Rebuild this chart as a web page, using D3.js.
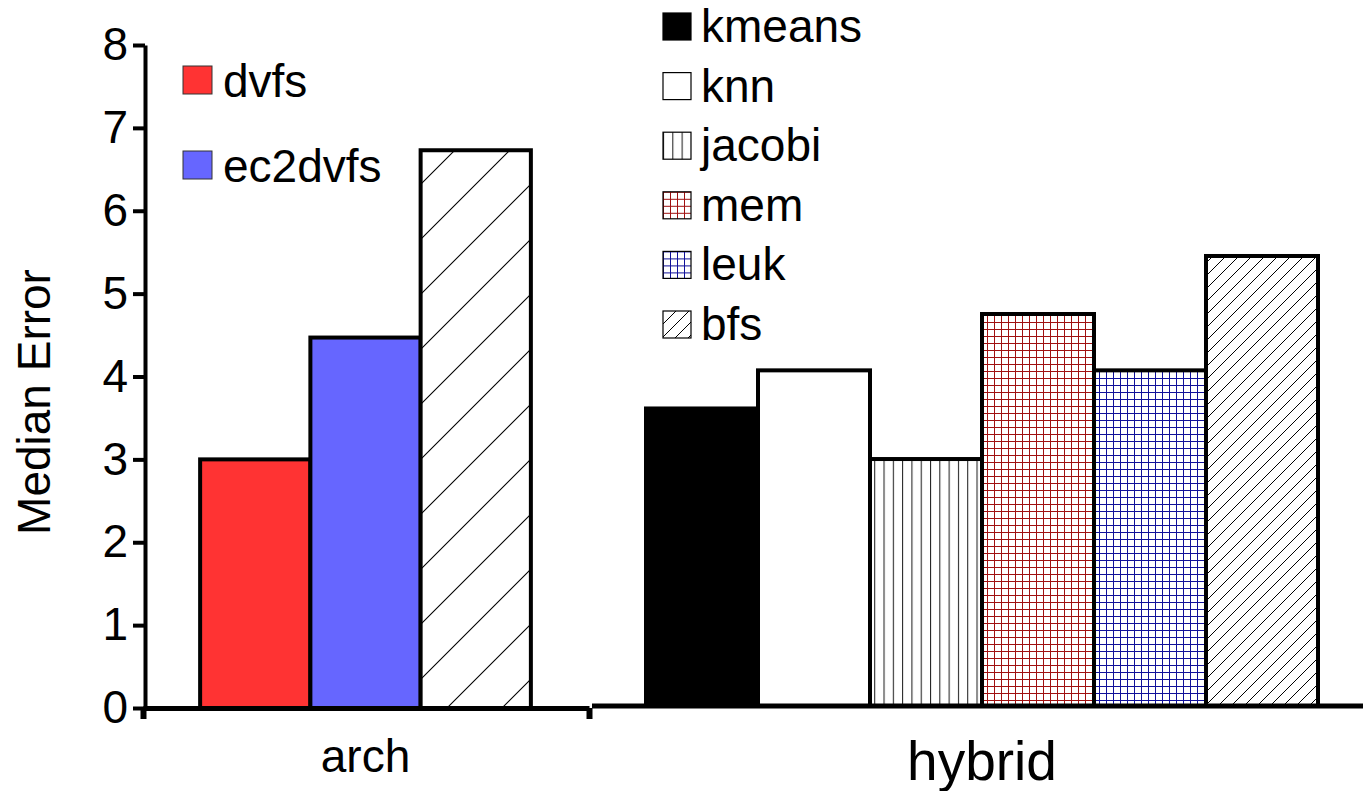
<!DOCTYPE html>
<html>
<head>
<meta charset="utf-8">
<script src="https://cdn.jsdelivr.net/npm/d3@7/dist/d3.min.js"></script>
<style>
  html, body { margin: 0; padding: 0; background: #fff; }
  svg { display: block; font-family: "Liberation Sans", Arial, sans-serif; }
</style>
</head>
<body>
<svg id="chart" width="1363" height="791"></svg>
<script>
// ---- data ----
const groups = ["arch", "hybrid"];
const archSeries = ["dvfs", "ec2dvfs", "arch-hatched"];
const archValues = [3.0, 4.47, 6.73];
const archLegend = ["dvfs", "ec2dvfs"];
const hybridSeries = ["kmeans", "knn", "jacobi", "mem", "leuk", "bfs"];
const hybridValues = [3.59, 4.05, 2.98, 4.73, 4.05, 5.43];
const yTicks = [0, 1, 2, 3, 4, 5, 6, 7, 8];
const yTitle = "Median Error";

// ---- style ----
const fills = {
  "dvfs": "#ff3333",
  "ec2dvfs": "#6666ff",
  "arch-hatched": "url(#hatchWide)",
  "kmeans": "#000000",
  "knn": "#ffffff",
  "jacobi": "url(#vlines)",
  "mem": "url(#gridRed)",
  "leuk": "url(#gridBlue)",
  "bfs": "url(#hatchFine)"
};

const svg = d3.select("#chart");
const defs = svg.append("defs");

function pat(id, w, h) {
  const p = defs.append("pattern").attr("id", id)
    .attr("patternUnits", "userSpaceOnUse").attr("width", w).attr("height", h);
  p.append("rect").attr("width", w).attr("height", h).attr("fill", "#fff");
  return p;
}
// vertical lines
pat("vlines", 9.3, 10).append("line")
  .attr("x1", 0.5).attr("x2", 0.5).attr("y1", 0).attr("y2", 10)
  .attr("stroke", "#222").attr("stroke-width", 1.1);
// grids
function grid(id, color) {
  const p = pat(id, 7, 7);
  p.append("line").attr("x1", 0).attr("x2", 7).attr("y1", 0.5).attr("y2", 0.5)
    .attr("stroke", color).attr("stroke-width", 1);
  p.append("line").attr("x1", 0.5).attr("x2", 0.5).attr("y1", 0).attr("y2", 7)
    .attr("stroke", color).attr("stroke-width", 1);
}
grid("gridRed", "#a01010");
grid("gridBlue", "#10109a");
// diagonal hatches
function hatch(id, s, sw) {
  const p = pat(id, s, s);
  p.append("path").attr("d", `M0,${s} L${s},0 M${-s / 2},${s / 2} L${s / 2},${-s / 2} M${s / 2},${s * 1.5} L${s * 1.5},${s / 2}`)
    .attr("stroke", "#000").attr("stroke-width", sw).attr("fill", "none");
}
hatch("hatchFine", 13, 1);
hatch("hatchWide", 55, 1.1);

// ---- scales ----
const yLeft = d3.scaleLinear().domain([0, 8]).range([708, 45]);
const yRight = d3.scaleLinear().domain([0, 8]).range([706, 43]);
const xArch = d3.scaleBand().domain(archSeries).range([145, 586]).paddingInner(0).paddingOuter(0.5);
const xHybrid = d3.scaleBand().domain(hybridSeries).range([590, 1374]).paddingInner(0).paddingOuter(0.5);
const archPanel = [143, 589];

// ---- bars ----
const archData = archSeries.map((s, i) => ({ s, v: archValues[i] }));
const hybridData = hybridSeries.map((s, i) => ({ s, v: hybridValues[i] }));

svg.append("g").selectAll("rect").data(archData).join("rect")
  .attr("x", d => xArch(d.s)).attr("width", xArch.bandwidth())
  .attr("y", d => yLeft(d.v)).attr("height", d => yLeft(0) - yLeft(d.v))
  .attr("fill", d => fills[d.s]).attr("stroke", "#000").attr("stroke-width", 4);

svg.append("g").selectAll("rect").data(hybridData).join("rect")
  .attr("x", d => xHybrid(d.s)).attr("width", xHybrid.bandwidth())
  .attr("y", d => yRight(d.v)).attr("height", d => yRight(0) - yRight(d.v))
  .attr("fill", d => fills[d.s]).attr("stroke", "#000").attr("stroke-width", 4);

// ---- y axis (left) ----
const yAxis = d3.axisLeft(yLeft).tickValues(yTicks).tickFormat(d3.format("d"))
  .tickSize(12).tickSizeOuter(0).tickPadding(5);
const gy = svg.append("g").attr("transform", "translate(145,0)").call(yAxis);
gy.select(".domain").attr("stroke", "#000").attr("stroke-width", 4);
gy.selectAll(".tick line").attr("stroke", "#000").attr("stroke-width", 4);
gy.selectAll(".tick text").attr("font-size", 46).attr("fill", "#000")
  .attr("font-family", "'Liberation Sans', Arial, sans-serif");

// ---- bottom axis (left panel) ----
const [a0, a1] = archPanel;
const xAxisArch = d3.axisBottom(d3.scaleLinear().domain([a0, a1]).range([a0, a1]))
  .tickValues([a0, a1]).tickFormat("").tickSize(11).tickSizeOuter(0);
const gxa = svg.append("g").attr("transform", `translate(0,${yLeft(0)})`).call(xAxisArch);
gxa.select(".domain").attr("stroke", "#000").attr("stroke-width", 5);
gxa.selectAll(".tick line").attr("stroke", "#000").attr("stroke-width", 6);

// ---- baseline (right panel) ----
svg.append("line").attr("x1", 592).attr("x2", 1363)
  .attr("y1", yRight(0)).attr("y2", yRight(0))
  .attr("stroke", "#000").attr("stroke-width", 5);

// ---- category labels ----
const [r0, r1] = xArch.range();
svg.append("text").attr("x", (r0 + r1) / 2).attr("y", 772)
  .attr("text-anchor", "middle").attr("font-size", 46).text(groups[0]);
const [h0, h1] = xHybrid.range();
svg.append("text").attr("x", (h0 + h1) / 2).attr("y", 780)
  .attr("text-anchor", "middle").attr("font-size", 55).text(groups[1]);

// ---- y title ----
svg.append("text").attr("transform", "translate(50,402) rotate(-90)")
  .attr("text-anchor", "middle").attr("font-size", 46).text(yTitle);

// ---- legends ----
const legL = svg.append("g").selectAll("g").data(archLegend).join("g")
  .attr("transform", (d, i) => `translate(183,${66 + i * 85})`);
legL.append("rect").attr("width", 29).attr("height", 28)
  .attr("fill", d => fills[d]).attr("stroke", "#333").attr("stroke-width", 1);
legL.append("text").attr("x", 40).attr("y", 31).attr("font-size", 46).text(d => d);

const legR = svg.append("g").selectAll("g").data(hybridSeries).join("g")
  .attr("transform", (d, i) => `translate(663,${13 + i * 59.6})`);
legR.append("rect").attr("width", 28).attr("height", 27)
  .attr("fill", d => fills[d]).attr("stroke", "#000").attr("stroke-width", 1.2);
legR.append("text").attr("x", 38).attr("y", 29).attr("font-size", 46).text(d => d);
</script>
</body>
</html>
